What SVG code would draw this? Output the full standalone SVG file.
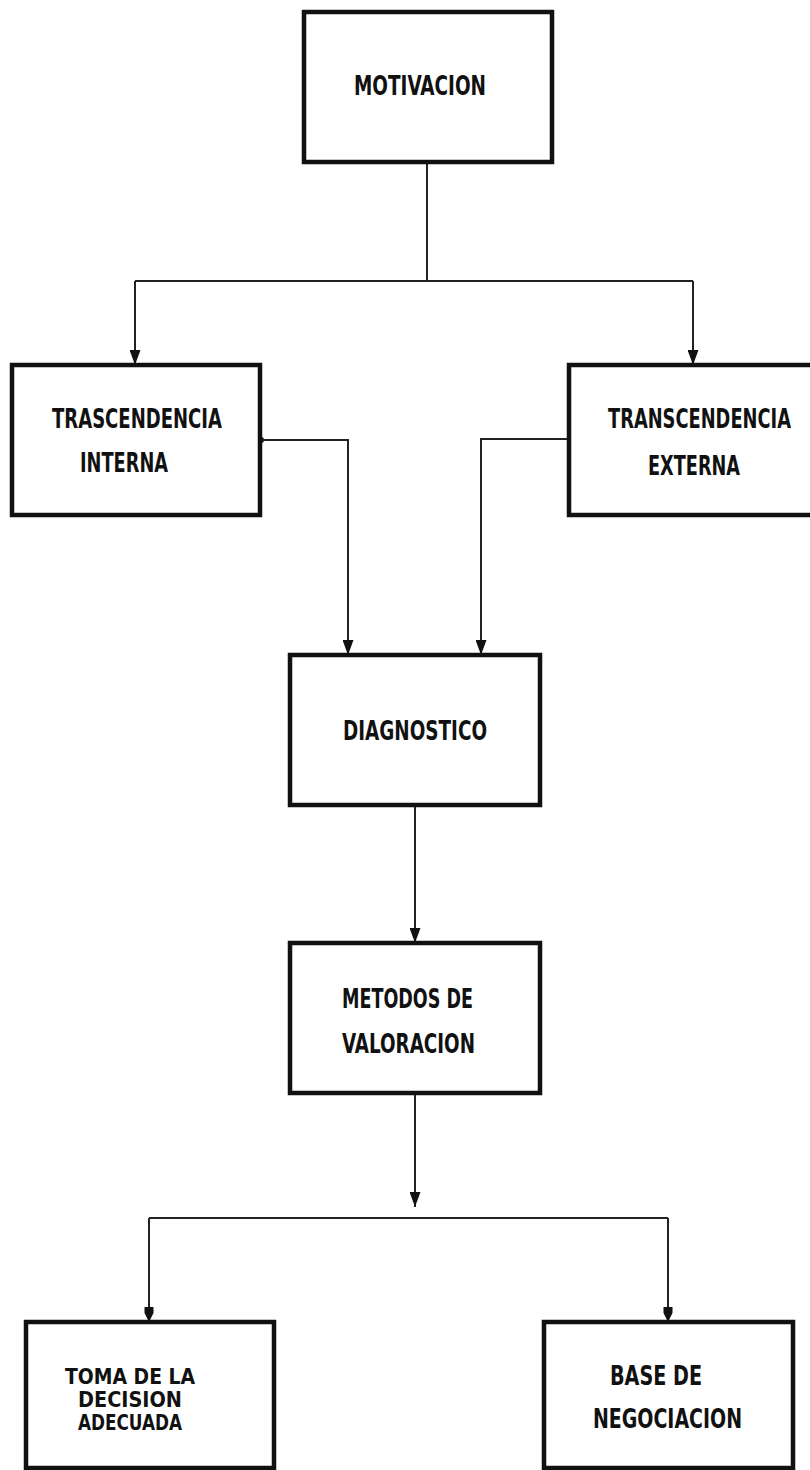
<svg xmlns="http://www.w3.org/2000/svg" width="810" height="1470" viewBox="0 0 810 1470">
<style>
.box{fill:#fff;stroke:#111;stroke-width:4.5}
.lbl{font-family:"DejaVu Sans Condensed","DejaVu Sans",sans-serif;font-weight:bold;font-size:26px;fill:#111}
.sm{font-size:22px}
.con{fill:none;stroke:#222;stroke-width:2}
</style>
<defs>
<marker id="arrd" viewBox="0 0 11 15" refX="5.5" refY="15" markerWidth="11" markerHeight="15" markerUnits="userSpaceOnUse" orient="0">
<path d="M0,0 L11,0 L5.5,15 Z" fill="#111"/>
</marker>
<marker id="arrr" viewBox="0 0 11 15" refX="5.5" refY="15" markerWidth="11" markerHeight="15" markerUnits="userSpaceOnUse" orient="0">
<path d="M1,0 Q5.5,-2 10,0 L10,6 L5.5,15 L1,6 Z" fill="#111"/>
</marker>
</defs>
<rect width="810" height="1470" fill="#fff"/>
<g id="connectors">
<path class="con" d="M427,162 V281"/>
<path class="con" d="M135,281 H693"/>
<path class="con" d="M135,281 V365" marker-end="url(#arrd)"/>
<path class="con" d="M693,281 V365" marker-end="url(#arrd)"/>
<rect x="255" y="406" width="4" height="21" fill="#777"/>
<circle cx="261" cy="440" r="3" fill="#111"/>
<path class="con" d="M261,440 H348 V655" marker-end="url(#arrd)"/>
<path class="con" d="M569,439 H481 V655" marker-end="url(#arrd)"/>
<path class="con" d="M415,805 V943" marker-end="url(#arrd)"/>
<path class="con" d="M415,1093 V1207" marker-end="url(#arrd)"/>
<path class="con" d="M149,1218 H668"/>
<path class="con" d="M149,1218 V1322" marker-end="url(#arrr)"/>
<path class="con" d="M668,1218 V1322" marker-end="url(#arrr)"/>
</g>
<g id="motivacion">
<rect class="box" x="304" y="12" width="248" height="150"/>
<text class="lbl" x="354" y="95" textLength="132" lengthAdjust="spacingAndGlyphs">MOTIVACION</text>
</g>
<g id="interna">
<rect class="box" x="12" y="365" width="248" height="150"/>
<text class="lbl" x="52" y="428" textLength="170" lengthAdjust="spacingAndGlyphs">TRASCENDENCIA</text>
<text class="lbl" x="80" y="472" textLength="88" lengthAdjust="spacingAndGlyphs">INTERNA</text>
</g>
<g id="externa">
<rect class="box" x="569" y="365" width="250" height="150"/>
<text class="lbl" x="608" y="428" textLength="183" lengthAdjust="spacingAndGlyphs">TRANSCENDENCIA</text>
<text class="lbl" x="648" y="475" textLength="92" lengthAdjust="spacingAndGlyphs">EXTERNA</text>
</g>
<g id="diagnostico">
<rect class="box" x="290" y="655" width="250" height="150"/>
<text class="lbl" x="343" y="740" textLength="144" lengthAdjust="spacingAndGlyphs">DIAGNOSTICO</text>
</g>
<g id="metodos">
<rect class="box" x="290" y="943" width="250" height="150"/>
<text class="lbl" x="342" y="1008" textLength="131" lengthAdjust="spacingAndGlyphs">METODOS DE</text>
<text class="lbl" x="342" y="1053" textLength="133" lengthAdjust="spacingAndGlyphs">VALORACION</text>
</g>
<g id="toma">
<rect class="box" x="26" y="1322" width="248" height="146"/>
<text class="lbl sm" x="65" y="1384" textLength="130" lengthAdjust="spacingAndGlyphs">TOMA DE LA</text>
<text class="lbl sm" x="78" y="1407" textLength="104" lengthAdjust="spacingAndGlyphs">DECISION</text>
<text class="lbl sm" x="78" y="1430" textLength="104" lengthAdjust="spacingAndGlyphs">ADECUADA</text>
</g>
<g id="base">
<rect class="box" x="544" y="1322" width="249" height="146"/>
<text class="lbl" x="610" y="1385" textLength="92" lengthAdjust="spacingAndGlyphs">BASE DE</text>
<text class="lbl" x="593" y="1428" textLength="149" lengthAdjust="spacingAndGlyphs">NEGOCIACION</text>
</g>
</svg>
